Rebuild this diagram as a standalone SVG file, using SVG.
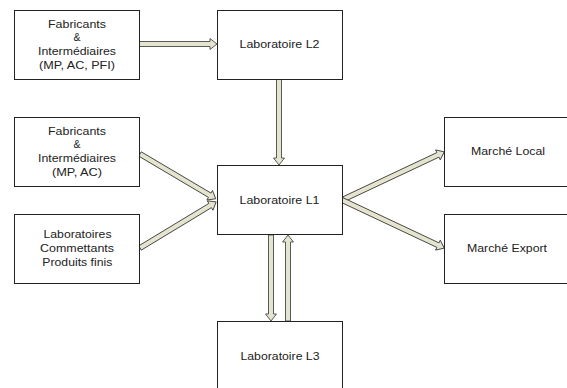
<svg xmlns="http://www.w3.org/2000/svg" width="567" height="388" viewBox="0 0 567 388">
<style>
.box{fill:#fff;stroke:#222;stroke-width:1}
.t{font-family:"Liberation Sans",Arial,sans-serif;font-size:10.5px;fill:#222;text-anchor:middle}
.arr{fill:#e4e4cf;stroke:#333;stroke-width:0.8;stroke-linejoin:miter}
</style>
<rect width="567" height="388" fill="#fff"/>
<g id="connectors">
<polygon class="arr" transform="translate(139,44)" points="0,-2.5 71,-2.5 71,-5.5 78,0 71,5.5 71,2.5 0,2.5"/>
<polygon class="arr" transform="translate(279,79) rotate(90)" points="0,-2.5 79,-2.5 79,-5.5 86,0 79,5.5 79,2.5 0,2.5"/>
<polygon class="arr" transform="translate(140,154) rotate(30.6)" points="0,-2.5 81,-2.5 81,-5.5 88,0 81,5.5 81,2.5 0,2.5"/>
<polygon class="arr" transform="translate(140,248) rotate(-31.2)" points="0,-2.5 82,-2.5 82,-5.5 89,0 82,5.5 82,2.5 0,2.5"/>
<polygon class="arr" transform="translate(342,200) rotate(-25.2)" points="0,-2.5 106,-2.5 106,-5.5 113,0 106,5.5 106,2.5 0,2.5"/>
<polygon class="arr" transform="translate(342,200) rotate(25.2)" points="0,-2.5 106,-2.5 106,-5.5 113,0 106,5.5 106,2.5 0,2.5"/>
<polygon class="arr" transform="translate(271,235) rotate(90)" points="0,-2.5 79,-2.5 79,-5.5 86,0 79,5.5 79,2.5 0,2.5"/>
<polygon class="arr" transform="translate(288,321) rotate(-90)" points="0,-2.5 79,-2.5 79,-5.5 86,0 79,5.5 79,2.5 0,2.5"/>
</g>
<g id="fab1">
<rect class="box" x="14.5" y="10.5" width="125" height="69"/>
<text class="t" x="77" y="28" textLength="58" lengthAdjust="spacingAndGlyphs">Fabricants</text>
<text class="t" x="77" y="41">&amp;</text>
<text class="t" x="77" y="55" textLength="78" lengthAdjust="spacingAndGlyphs">Intermédiaires</text>
<text class="t" x="77" y="68.5" textLength="76" lengthAdjust="spacingAndGlyphs">(MP, AC, PFI)</text>
</g>
<g id="l2">
<rect class="box" x="217.5" y="10.5" width="125" height="69"/>
<text class="t" x="279.5" y="47.5" textLength="80" lengthAdjust="spacingAndGlyphs">Laboratoire L2</text>
</g>
<g id="fab2">
<rect class="box" x="14.5" y="117.5" width="125" height="69"/>
<text class="t" x="77" y="135" textLength="58" lengthAdjust="spacingAndGlyphs">Fabricants</text>
<text class="t" x="77" y="148">&amp;</text>
<text class="t" x="77" y="162" textLength="78" lengthAdjust="spacingAndGlyphs">Intermédiaires</text>
<text class="t" x="77" y="175.5" textLength="50" lengthAdjust="spacingAndGlyphs">(MP, AC)</text>
</g>
<g id="labcom">
<rect class="box" x="14.5" y="214.5" width="125" height="69"/>
<text class="t" x="77.5" y="238" textLength="68" lengthAdjust="spacingAndGlyphs">Laboratoires</text>
<text class="t" x="77" y="251.5" textLength="74" lengthAdjust="spacingAndGlyphs">Commettants</text>
<text class="t" x="77.3" y="265.5" textLength="70" lengthAdjust="spacingAndGlyphs">Produits finis</text>
</g>
<g id="l1">
<rect class="box" x="217.5" y="165.5" width="125" height="69"/>
<text class="t" x="279.5" y="203.5" textLength="80" lengthAdjust="spacingAndGlyphs">Laboratoire L1</text>
</g>
<g id="local">
<rect class="box" x="444.5" y="117.5" width="130" height="69"/>
<text class="t" x="508" y="155" textLength="74" lengthAdjust="spacingAndGlyphs">Marché Local</text>
</g>
<g id="export">
<rect class="box" x="444.5" y="214.5" width="130" height="69"/>
<text class="t" x="507" y="251.5" textLength="80" lengthAdjust="spacingAndGlyphs">Marché Export</text>
</g>
<g id="l3">
<rect class="box" x="217.5" y="321.5" width="125" height="80"/>
<text class="t" x="280" y="359.5" textLength="79" lengthAdjust="spacingAndGlyphs">Laboratoire L3</text>
</g>
</svg>
